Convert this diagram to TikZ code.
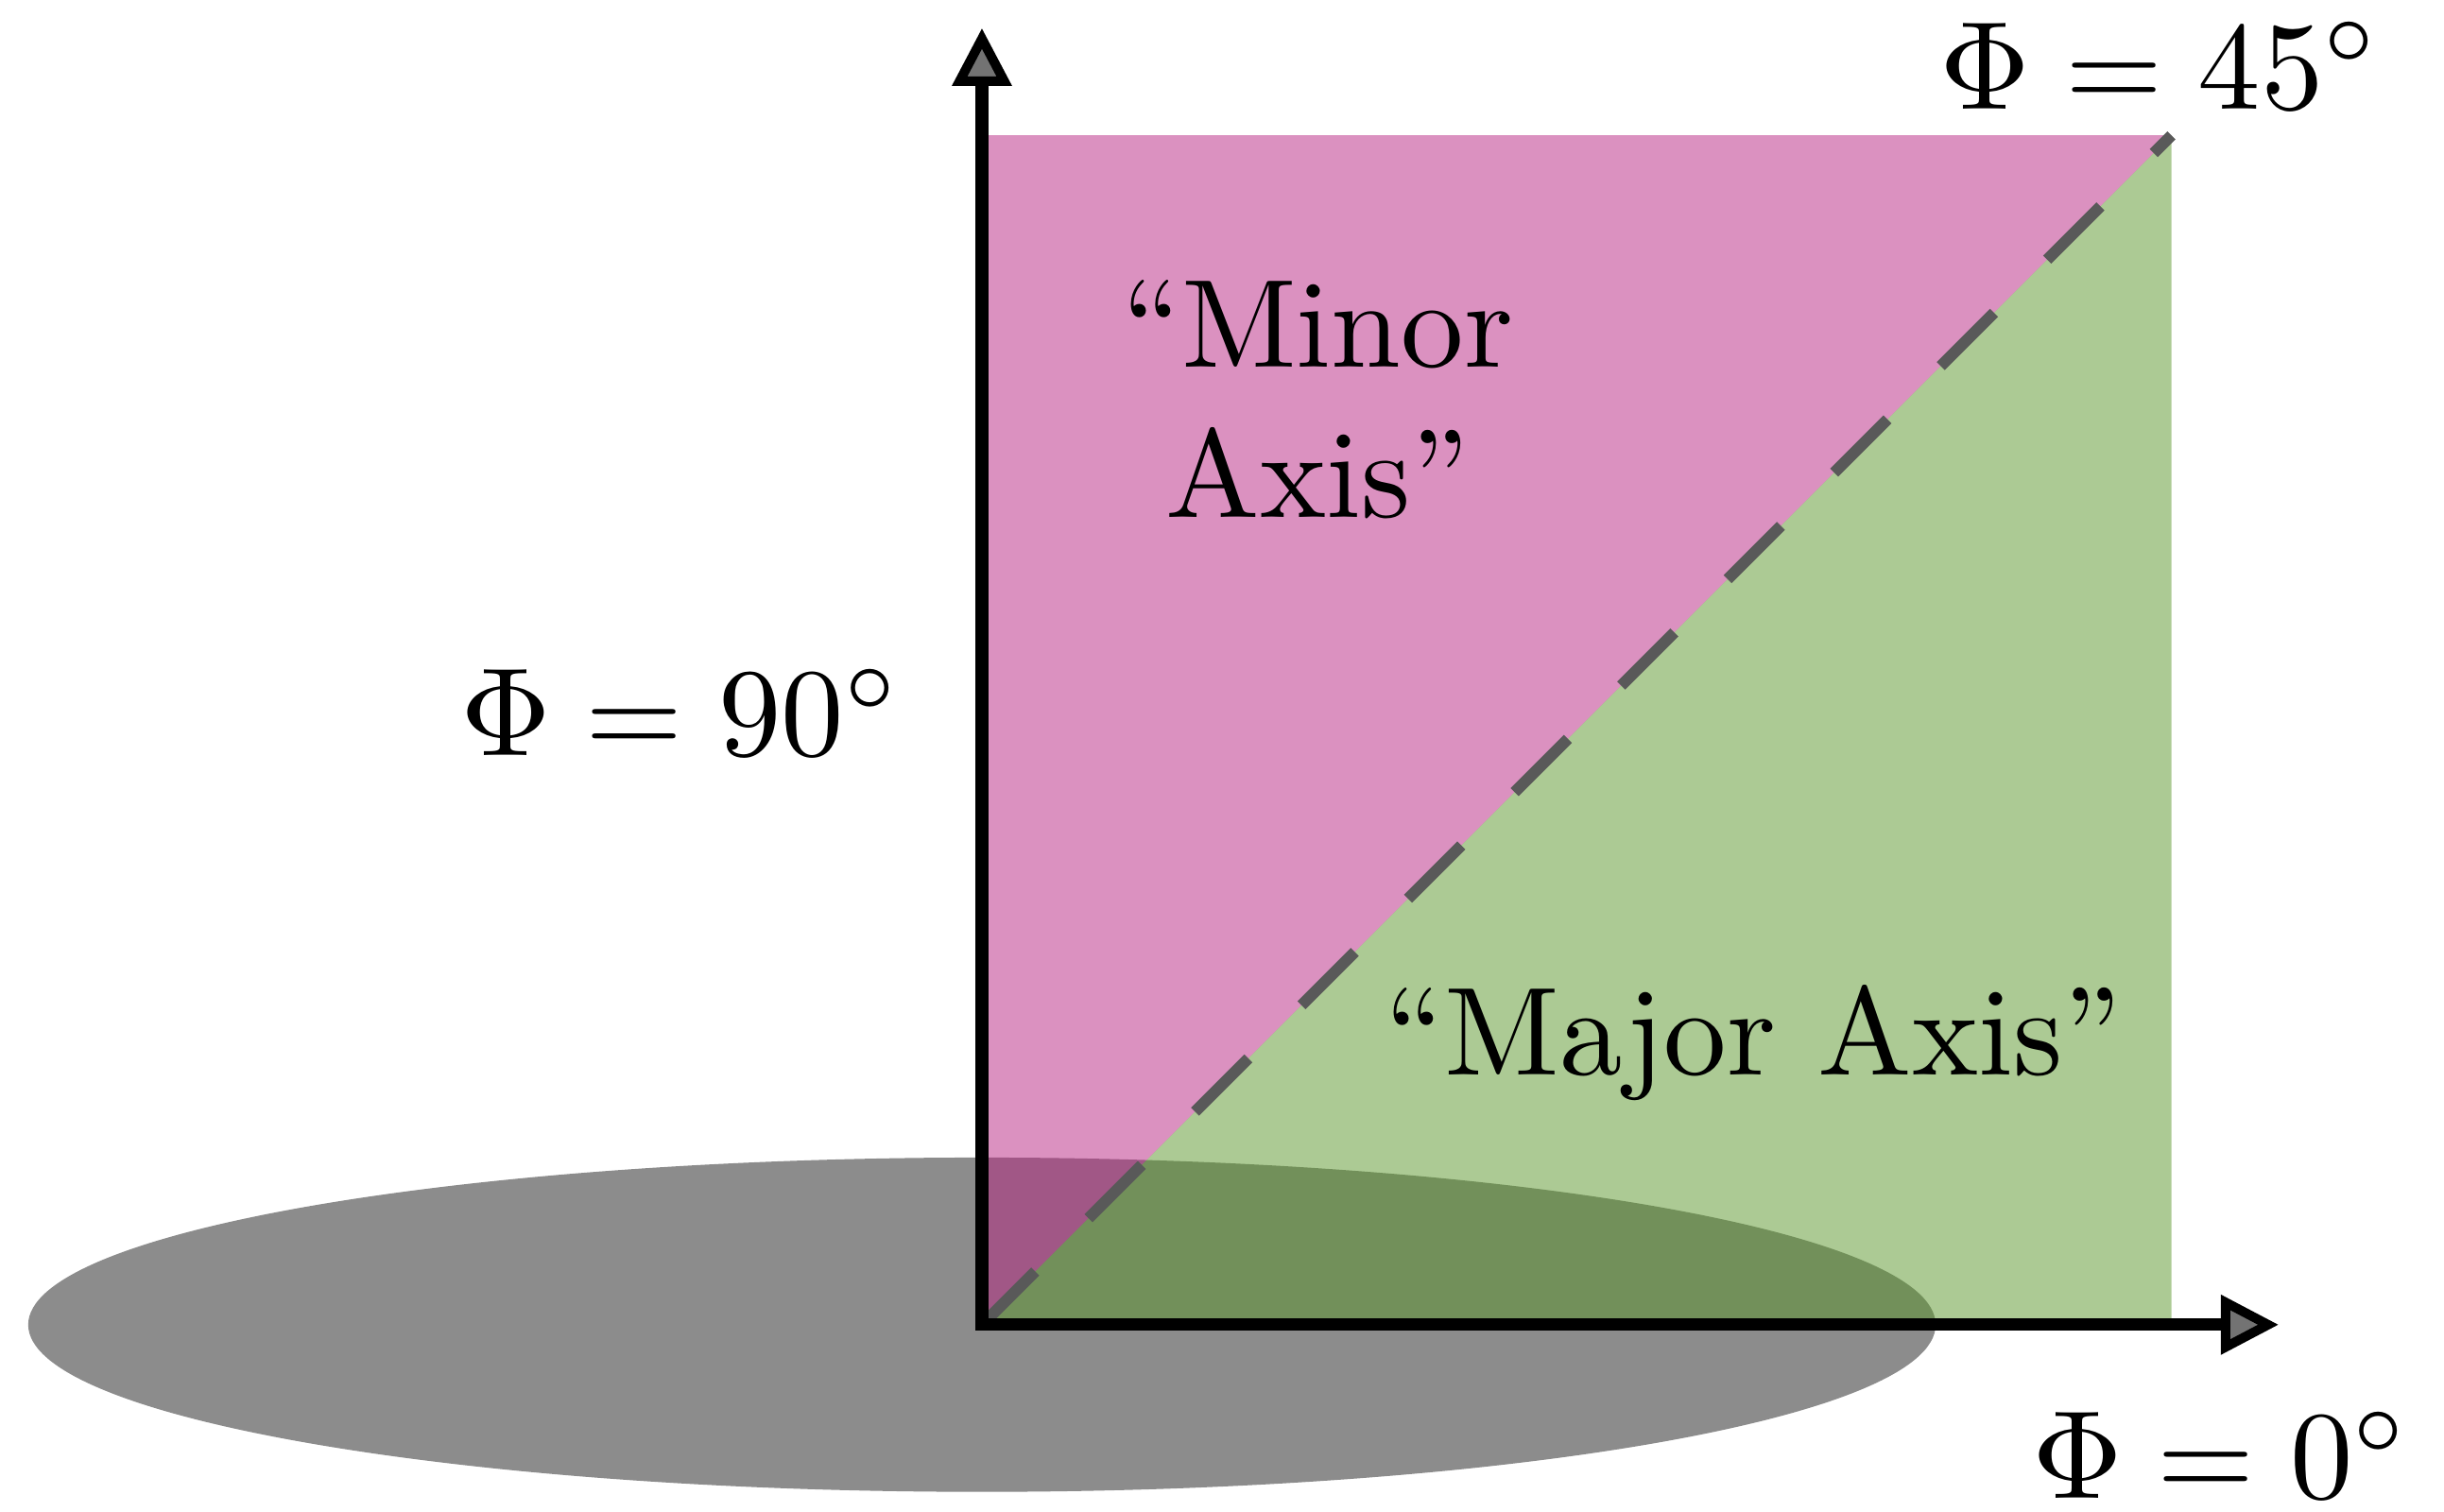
\documentclass[tikz,border=0pt]{standalone}
\usetikzlibrary{arrows.meta}
\definecolor{minoraxis}{RGB}{183,35,129}
\definecolor{majoraxis}{RGB}{89,149,41}
\definecolor{footprint}{RGB}{140,140,140}

\begin{document}
\begin{tikzpicture}[x=1cm,y=1cm,
  tip/.tip={Triangle[length=4.6pt,width=4.6pt,fill=black!55,line width=0.75pt]},
  axis/.style={line width=1pt,tip-tip},
  region/.style={opacity=.5}]
\useasboundingbox (-2.749,-0.524) rectangle (4.093,3.709);
\coordinate (O) at (0,0); \coordinate (X) at (3.63,0); \coordinate (Y) at (0,3.63);
\coordinate (C) at (3.33,3.33);
\fill[footprint] (O) ellipse [x radius=2.67,y radius=0.468];
\fill[minoraxis,region] (O)--(0,3.33)--(C)--cycle;
\fill[majoraxis,region] (O)--(3.33,0)--(C)--cycle;
\draw[black!65,line width=0.9pt,dash pattern=on 6pt off 6pt] (O)--(C);
\draw[axis] (Y)--(O)--(X);
\node[above] (p45) at (3.30,3.28) {$\Phi=45^\circ$};
\node[below] (p0) at (3.47,-0.12) {$\Phi=0^\circ$};
\node[left] (p90) at (-0.1,1.715) {$\Phi=90^\circ$};
\node[align=center] (minor) at (0.94,2.59) {``Minor\\Axis''};
\node (major) at (2.16,0.79) {``Major Axis''};
\end{tikzpicture}
\end{document}
